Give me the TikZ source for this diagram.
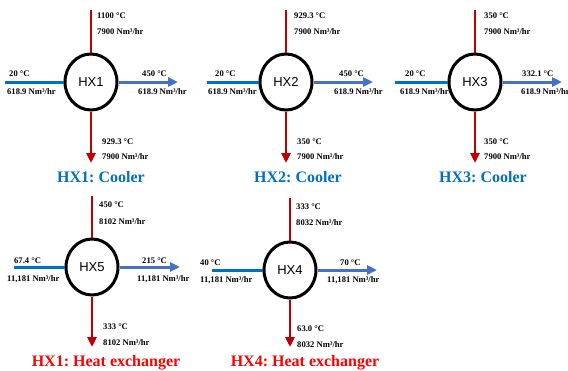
\documentclass[tikz,border=0pt]{standalone}
\usepackage{fontspec}
\setmainfont{Liberation Serif}
\setsansfont{Liberation Sans}
\usetikzlibrary{arrows.meta,shapes.geometric}

\definecolor{hotred}{RGB}{192,0,0}
\definecolor{coldin}{RGB}{0,112,192}
\definecolor{coldout}{RGB}{68,114,196}
\definecolor{titleblue}{RGB}{0,112,192}
\definecolor{titlered}{RGB}{255,0,0}

\frenchspacing

\tikzset{
  hxunit/.style={ellipse, draw=black, line width=3pt, minimum width=52pt,
    minimum height=56pt, inner sep=0pt, fill=white,
    font=\sffamily\fontsize{13}{15}\selectfont},
  hotline/.style={draw=hotred, line width=2.8pt},
  coldline/.style={draw=coldin, line width=3pt},
  warmline/.style={draw=coldout, line width=3pt},
  tipped/.style={-{Triangle[length=10pt,width=9pt]}},
  lbl/.style={anchor=west, inner sep=0pt,
    font=\bfseries\fontsize{8.6}{10}\selectfont},
  ttlblue/.style={inner sep=0pt, text=titleblue,
    font=\bfseries\fontsize{16}{18}\selectfont},
  ttlred/.style={inner sep=0pt, text=titlered,
    font=\bfseries\fontsize{16}{18}\selectfont},
}

\begin{document}
\begin{tikzpicture}[x=1pt,y=1pt]
\useasboundingbox (0,0) rectangle (568,-370);
\clip (0,0) rectangle (568,-370);

% ---------- HX1: cooler ----------
\node[hxunit] (h1) at (91,-82) {HX1};
\coordinate (h1top) at (91,-10);
\coordinate (h1bot) at (91,-163);
\coordinate (h1in)  at (5,-82);
\coordinate (h1out) at (178,-82);
\draw[hotline] (h1top) -- (h1.north);
\draw[hotline,tipped] (h1.south) -- (h1bot);
\draw[coldline] (h1in) -- (h1.west);
\draw[warmline,tipped] (h1.east) -- (h1out);
\node[lbl] (h1a) at (97,-16) {1100 °C};
\node[lbl] (h1b) at (97,-32) {7900 Nm³/hr};
\node[lbl] (h1c) at (9,-74) {20 °C};
\node[lbl] (h1d) at (7,-92) {618.9 Nm³/hr};
\node[lbl] (h1e) at (142,-74) {450 °C};
\node[lbl] (h1f) at (138,-92) {618.9 Nm³/hr};
\node[lbl] (h1g) at (102,-142) {929.3 °C};
\node[lbl] (h1h) at (102,-157) {7900 Nm³/hr};
\node[ttlblue] (h1t) at (101,-177) {HX1: Cooler};

% ---------- HX2: cooler ----------
\node[hxunit] (h2) at (286,-82) {HX2};
\coordinate (h2top) at (286,-10);
\coordinate (h2bot) at (286,-163);
\coordinate (h2in)  at (207,-82);
\coordinate (h2out) at (373,-82);
\draw[hotline] (h2top) -- (h2.north);
\draw[hotline,tipped] (h2.south) -- (h2bot);
\draw[coldline] (h2in) -- (h2.west);
\draw[warmline,tipped] (h2.east) -- (h2out);
\node[lbl] (h2a) at (294,-16) {929.3 °C};
\node[lbl] (h2b) at (294,-32) {7900 Nm³/hr};
\node[lbl] (h2c) at (215,-74) {20 °C};
\node[lbl] (h2d) at (208,-92) {618.9 Nm³/hr};
\node[lbl] (h2e) at (339,-74) {450 °C};
\node[lbl] (h2f) at (334,-92) {618.9 Nm³/hr};
\node[lbl] (h2g) at (297,-142) {350 °C};
\node[lbl] (h2h) at (297,-157) {7900 Nm³/hr};
\node[ttlblue] (h2t) at (298,-177) {HX2: Cooler};

% ---------- HX3: cooler ----------
\node[hxunit] (h3) at (475,-82) {HX3};
\coordinate (h3top) at (475,-10);
\coordinate (h3bot) at (475,-163);
\coordinate (h3in)  at (395,-82);
\coordinate (h3out) at (562,-82);
\draw[hotline] (h3top) -- (h3.north);
\draw[hotline,tipped] (h3.south) -- (h3bot);
\draw[coldline] (h3in) -- (h3.west);
\draw[warmline,tipped] (h3.east) -- (h3out);
\node[lbl] (h3a) at (484,-16) {350 °C};
\node[lbl] (h3b) at (484,-32) {7900 Nm³/hr};
\node[lbl] (h3c) at (405,-74) {20 °C};
\node[lbl] (h3d) at (400,-92) {618.9 Nm³/hr};
\node[lbl] (h3e) at (522,-74) {332.1 °C};
\node[lbl] (h3f) at (521,-92) {618.9 Nm³/hr};
\node[lbl] (h3g) at (484,-142) {350 °C};
\node[lbl] (h3h) at (484,-157) {7900 Nm³/hr};
\node[ttlblue] (h3t) at (483,-177) {HX3: Cooler};

% ---------- HX5: heat exchanger ----------
\node[hxunit] (h5) at (92,-267) {HX5};
\coordinate (h5top) at (92,-196);
\coordinate (h5bot) at (92,-347);
\coordinate (h5in)  at (14,-267);
\coordinate (h5out) at (180,-267);
\draw[hotline] (h5top) -- (h5.north);
\draw[hotline,tipped] (h5.south) -- (h5bot);
\draw[coldline] (h5in) -- (h5.west);
\draw[warmline,tipped] (h5.east) -- (h5out);
\node[lbl] (h5a) at (99,-205) {450 °C};
\node[lbl] (h5b) at (99,-222) {8102 Nm³/hr};
\node[lbl] (h5c) at (14,-261) {67.4 °C};
\node[lbl] (h5d) at (7,-279) {11,181 Nm³/hr};
\node[lbl] (h5e) at (142,-261) {215 °C};
\node[lbl] (h5f) at (137,-279) {11,181 Nm³/hr};
\node[lbl] (h5g) at (103,-327) {333 °C};
\node[lbl] (h5h) at (103,-343) {8102 Nm³/hr};
\node[ttlred] (h5t) at (106,-363) {HX1: Heat exchanger};

% ---------- HX4: heat exchanger ----------
\node[hxunit] (h4) at (290,-270) {HX4};
\coordinate (h4top) at (290,-198);
\coordinate (h4bot) at (290,-347);
\coordinate (h4in)  at (212,-270);
\coordinate (h4out) at (377,-270);
\draw[hotline] (h4top) -- (h4.north);
\draw[hotline,tipped] (h4.south) -- (h4bot);
\draw[coldline] (h4in) -- (h4.west);
\draw[warmline,tipped] (h4.east) -- (h4out);
\node[lbl] (h4a) at (296,-207) {333 °C};
\node[lbl] (h4b) at (296,-223) {8032 Nm³/hr};
\node[lbl] (h4c) at (200,-263) {40 °C};
\node[lbl] (h4d) at (200,-280) {11,181 Nm³/hr};
\node[lbl] (h4e) at (340,-263) {70 °C};
\node[lbl] (h4f) at (327,-280) {11,181 Nm³/hr};
\node[lbl] (h4g) at (297,-329) {63.0 °C};
\node[lbl] (h4h) at (297,-345) {8032 Nm³/hr};
\node[ttlred] (h4t) at (305,-363) {HX4: Heat exchanger};
\end{tikzpicture}
\end{document}
